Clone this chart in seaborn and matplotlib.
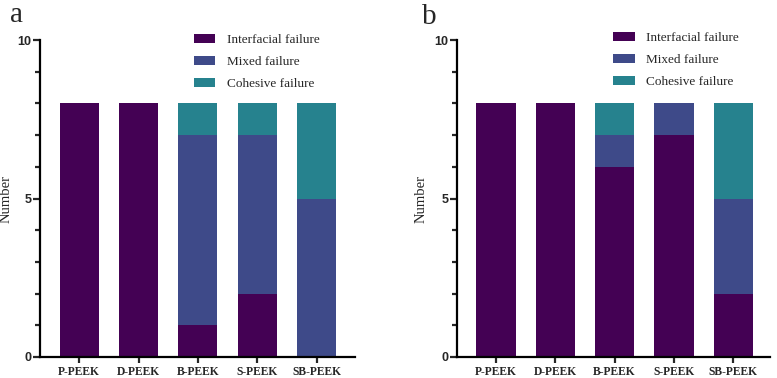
import numpy as np
import matplotlib.pyplot as plt
import seaborn as sns
from matplotlib.patches import Patch
from matplotlib.ticker import MultipleLocator

groups = ['P-PEEK', 'D-PEEK', 'B-PEEK', 'S-PEEK', 'SB-PEEK']
series = ['Interfacial failure', 'Mixed failure', 'Cohesive failure']
colors = ['#440154', '#3e4a89', '#26828e']

# counts per panel: interfacial, mixed, cohesive
a_interfacial = [8, 8, 1, 2, 0]
a_mixed = [0, 0, 6, 5, 5]
a_cohesive = [0, 0, 1, 1, 3]

b_interfacial = [8, 8, 6, 7, 2]
b_mixed = [0, 0, 1, 1, 3]
b_cohesive = [0, 0, 1, 0, 3]

sns.set_style('ticks')
serif = ['Liberation Serif', 'DejaVu Serif']
sans = ['Liberation Sans', 'DejaVu Sans']

fig = plt.figure(figsize=(7.77, 3.78), dpi=100)
ax_a = fig.add_axes([0.0515, 0.0556, 0.4055, 0.8384])
ax_b = fig.add_axes([0.588, 0.0556, 0.403, 0.8384])


def draw(ax, inter, mixed, coh, xr, ylab_x, leg_xy):
    inter = np.array(inter)
    mixed = np.array(mixed)
    coh = np.array(coh)
    layers = [inter + mixed + coh, inter + mixed, inter]
    for vals, c in zip(layers, colors[::-1]):
        sns.barplot(x=groups, y=vals, color=c, width=0.66, saturation=1,
                    ax=ax, edgecolor='none', linewidth=0)
    ax.set_xlim(-0.66, xr)
    ax.set_ylim(0, 10)
    ax.yaxis.set_major_locator(MultipleLocator(5))
    ax.yaxis.set_minor_locator(MultipleLocator(1))
    for s in ['top', 'right']:
        ax.spines[s].set_visible(False)
    for s in ['left', 'bottom']:
        ax.spines[s].set_linewidth(1.6)
        ax.spines[s].set_color('black')
    ax.tick_params(axis='y', which='major', length=5, width=1.6, pad=1)
    ax.tick_params(axis='y', which='minor', length=3.5, width=1.6)
    ax.tick_params(axis='x', length=4.5, width=1.6, pad=2)
    for t in ax.get_yticklabels():
        t.set_family(sans)
        t.set_fontweight('bold')
        t.set_fontsize(9)
    for t in ax.get_xticklabels():
        t.set_family(serif)
        t.set_fontweight('bold')
        t.set_fontsize(8.3)
    ax.set_ylabel('Number', family=serif, fontsize=10.5)
    ax.yaxis.set_label_coords(ylab_x, 0.5)
    ax.set_xlabel('')
    handles = [Patch(facecolor=c, edgecolor='none') for c in colors]
    ax.legend(handles, series, loc='upper left', bbox_to_anchor=leg_xy,
              frameon=False, prop={'family': serif, 'size': 9.5},
              handlelength=1.6, handleheight=0.7, handletextpad=0.9,
              labelspacing=0.75)


draw(ax_a, a_interfacial, a_mixed, a_cohesive, 4.65, -0.086, (0.452, 1.057))
draw(ax_b, b_interfacial, b_mixed, b_cohesive, 4.62, -0.093, (0.462, 1.064))

fig.text(0.013, 0.942, 'a', family=serif, fontsize=21, va='baseline', ha='left')
fig.text(0.543, 0.937, 'b', family=serif, fontsize=21, va='baseline', ha='left')

fig.savefig('out.png', dpi=100)
